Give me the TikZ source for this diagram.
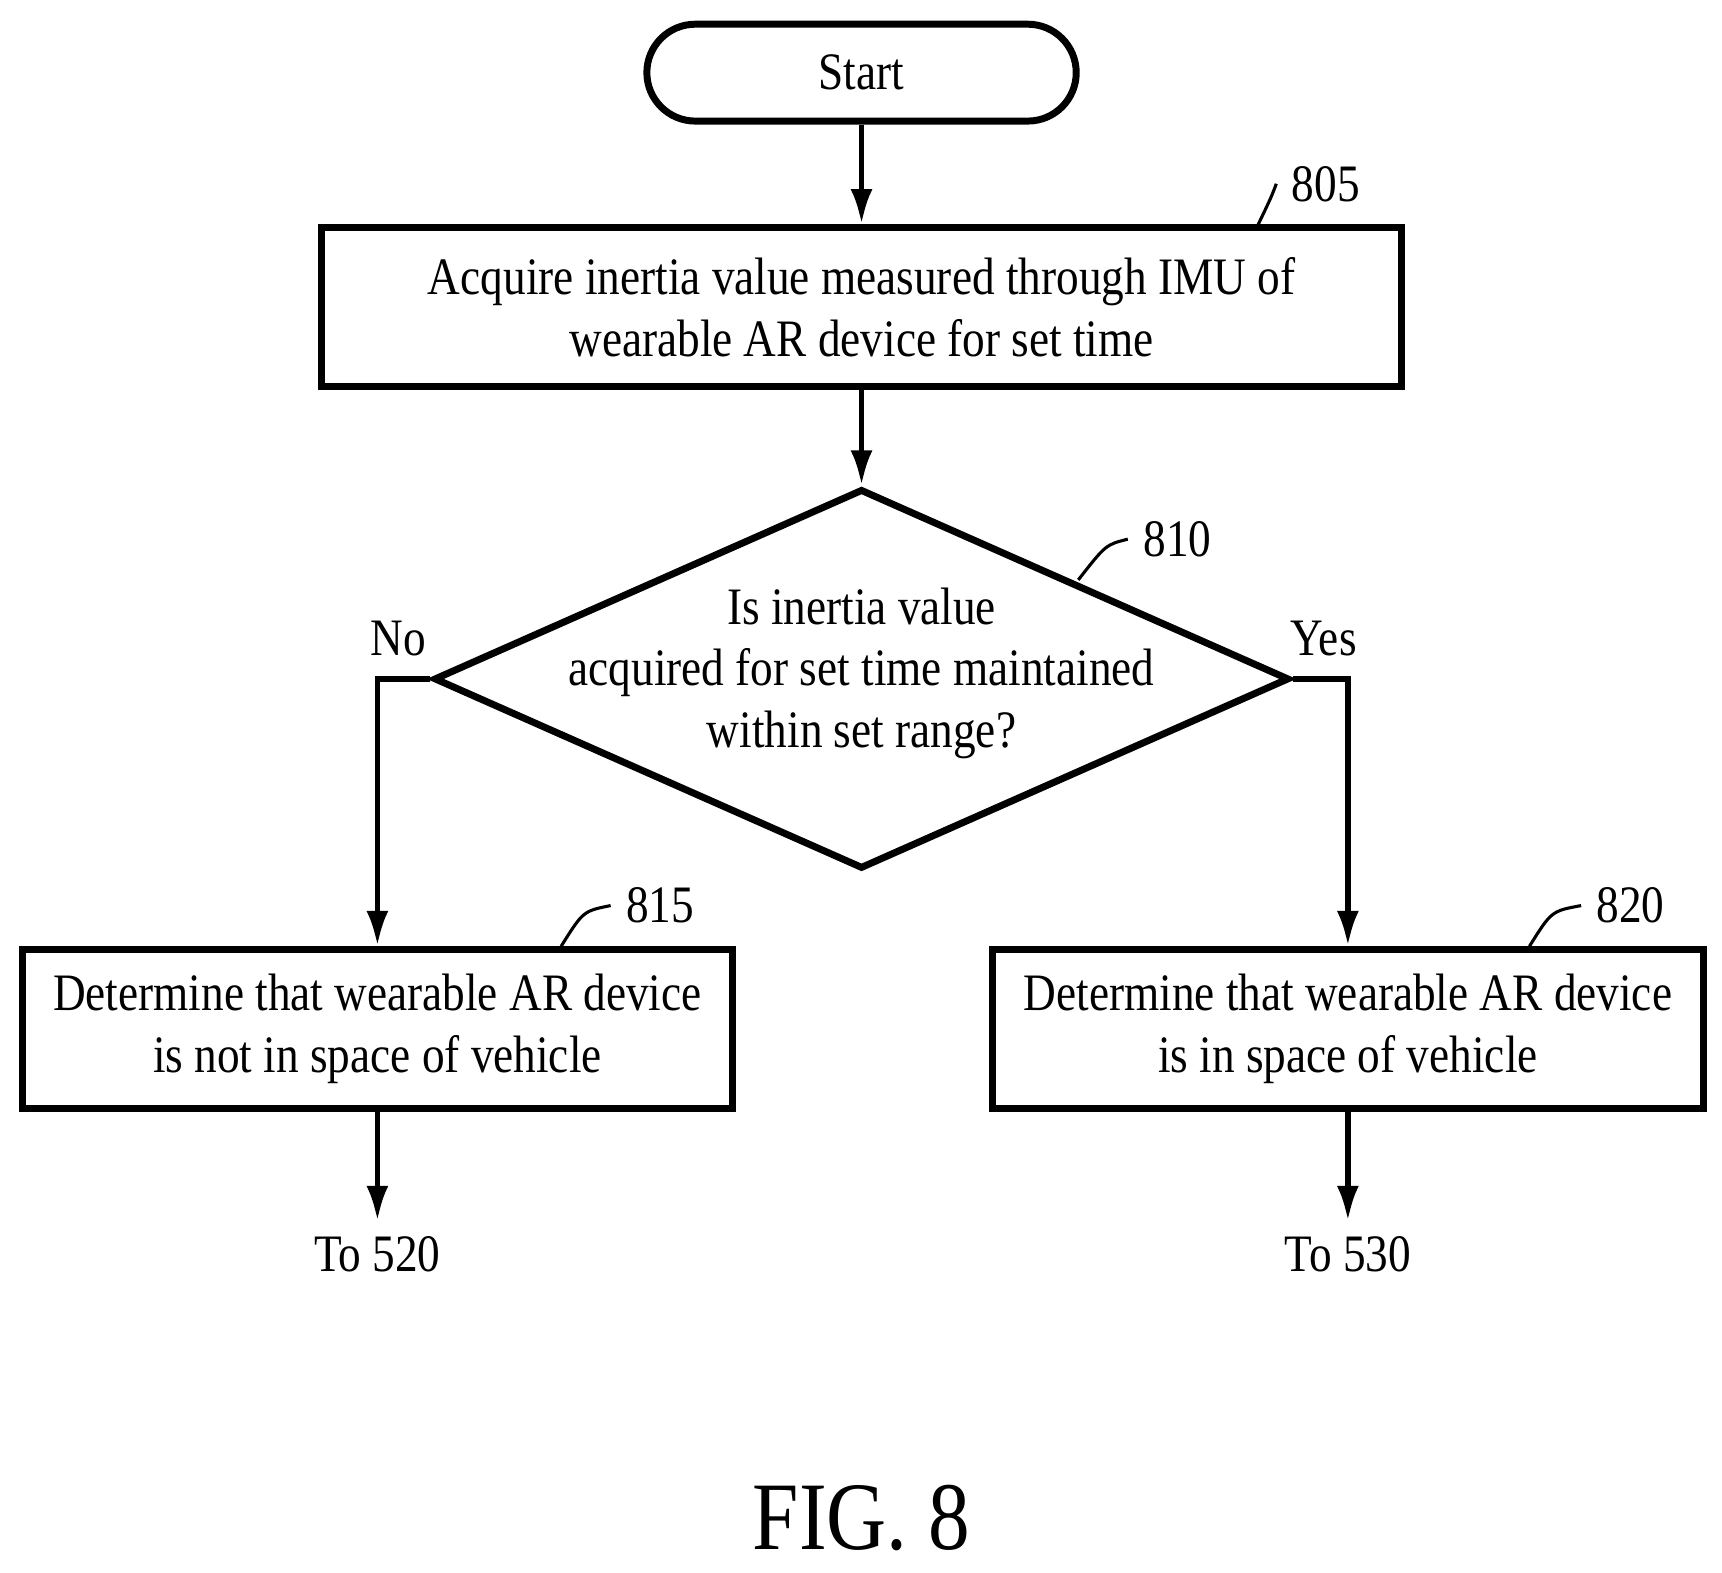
\documentclass[tikz,border=0pt]{standalone}
\usepackage{fontspec}
\setmainfont{Liberation Serif}[FakeStretch=0.86]
\usetikzlibrary{arrows.meta,positioning,shapes.geometric}

\begin{document}
\begin{tikzpicture}[x=0.01cm,y=-0.01cm, line width=1.4pt,
    every node/.style={font=\fontsize{13.6}{16}\selectfont},
    box/.style={draw, line width=1.8pt, align=center, inner sep=0pt},
    arr/.style={-{Latex[length=3.2mm,width=2mm]}},
    lead/.style={line width=0.8pt}]
    \useasboundingbox (0,0) rectangle (1565,1429);

    % Start
    \node[box, rounded corners=0.44cm, minimum width=3.9cm, minimum height=0.88cm] (start) at (783,66) {Start};

    % Step 805
    \node[box, minimum width=9.81cm, minimum height=1.44cm] (acq) at (783,279) {Acquire inertia value measured through IMU of\\wearable AR device for set time};
    \node (n805) at (1205,167) {805};
    \draw[lead] (1143,205) .. controls (1155,180) .. (n805.west);

    % Decision 810
    \node[diamond, draw, line width=1.8pt, minimum width=7.77cm, minimum height=3.45cm, aspect=2.25, inner sep=0pt] (dec) at (783,617) {};
    \node[align=center, inner sep=0pt] (dectext) at (783,612) {Is inertia value\\acquired for set time maintained\\within set range?};
    \node (n810) at (1070,490) {810};
    \draw[lead] (980,527) .. controls (1005,495) .. (n810.west);

    % Step 815 / 820
    \node[box, minimum width=6.45cm, minimum height=1.44cm] (notin) at (343,935) {Determine that wearable AR device\\is not in space of vehicle};
    \node[box, minimum width=6.46cm, minimum height=1.44cm] (isin) at (1225,935) {Determine that wearable AR device\\is in space of vehicle};
    \node (n815) at (600,823) {815};
    \draw[lead] (510,860) .. controls (530,828) .. (n815.west);
    \node (n820) at (1482,823) {820};
    \draw[lead] (1390,860) .. controls (1410,828) .. (n820.west);

    % Branch labels
    \node (no) at (362,580) {No};
    \node (yes) at (1203,580) {Yes};

    % Off-page
    \node (to520) at (343,1140) {To 520};
    \node (to530) at (1225,1140) {To 530};

    % Arrows
    \draw[arr] (start) -- (acq);
    \draw[arr] (acq) -- (dec.north);
    \draw[arr] (dec.west) -| (notin.north);
    \draw[arr] (dec.east) -| (isin.north);
    \draw[arr] (notin) -- (to520);
    \draw[arr] (isin) -- (to530);

    % Caption
    \node[font=\fontsize{25}{30}\selectfont] (fig) at (783,1380) {FIG. 8};
\end{tikzpicture}
\end{document}
